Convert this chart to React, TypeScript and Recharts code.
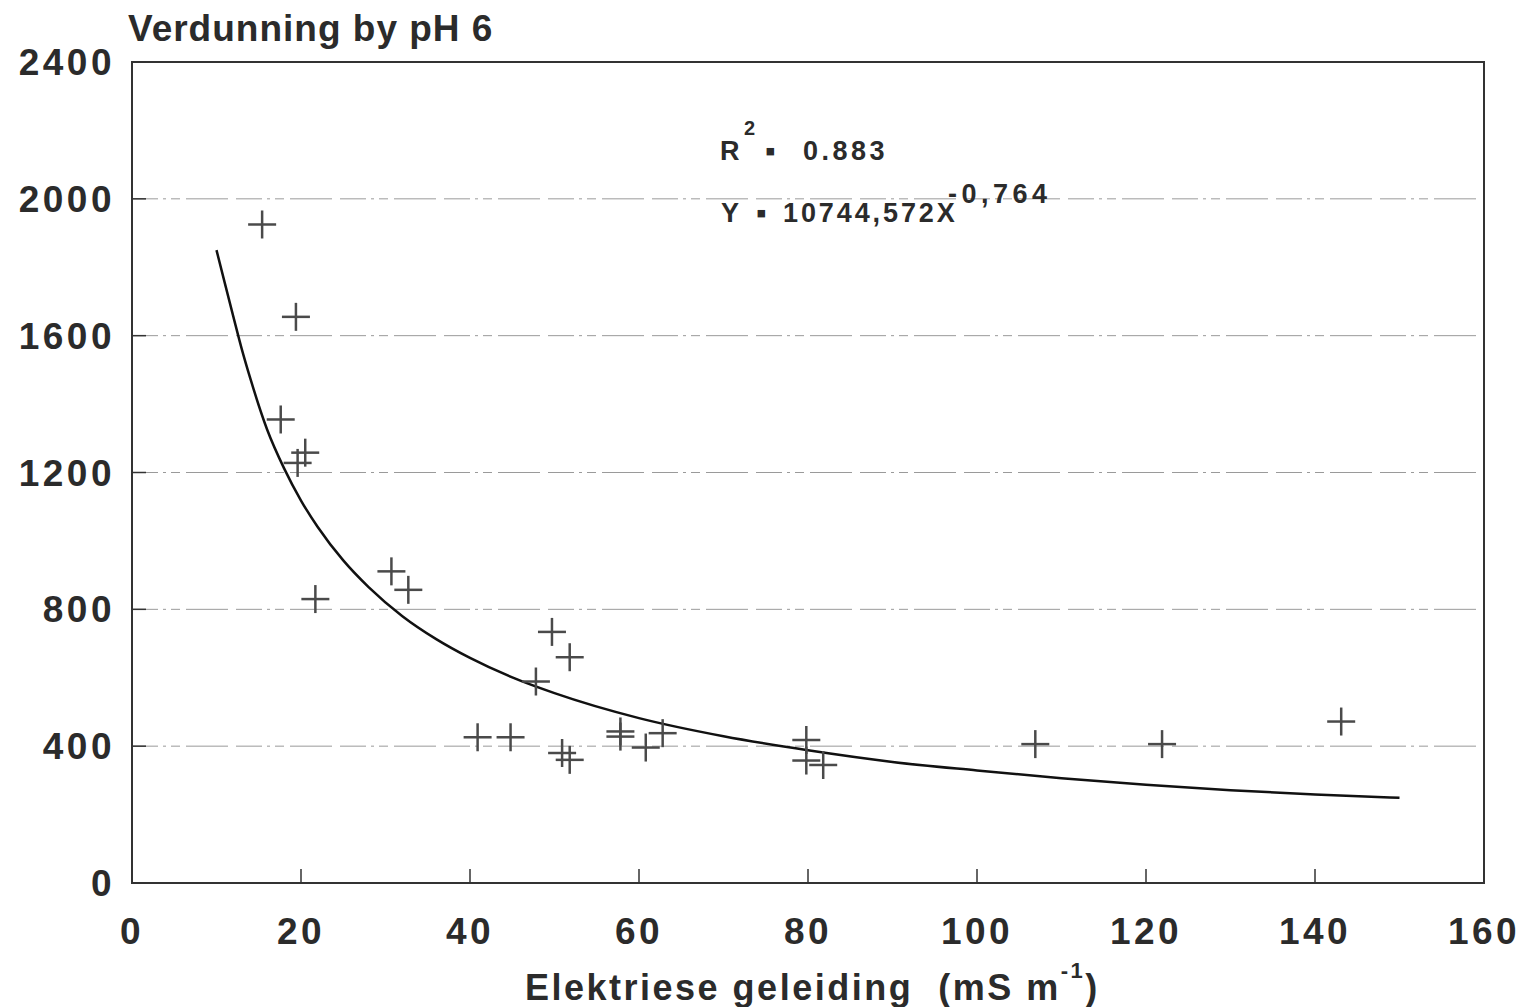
import {
  ComposedChart,
  Scatter,
  Line,
  XAxis,
  YAxis,
  CartesianGrid,
  ReferenceArea,
} from "recharts";

const sampleX = [
  15.4, 19.4, 17.6, 19.6, 20.5, 21.7, 30.7, 32.7, 49.7, 51.8, 47.8, 40.9, 44.8,
  50.9, 51.8, 57.8, 57.8, 60.8, 62.8, 79.8, 79.8, 81.8, 106.9, 121.9, 143.1,
];
const sampleY = [
  1925, 1655, 1355, 1228, 1258, 830, 911, 857, 734, 660, 589, 426, 426, 380, 360,
  443, 428, 396, 438, 418, 358, 345, 406, 406, 472,
];

// Fitted power curve, read at points along the drawn line.
const fitX = [
  10, 11, 12, 13, 14, 16, 18, 20, 22, 25, 28, 32, 36, 40, 45, 50, 60, 70, 80,
  90, 100, 110, 120, 130, 140, 150,
];
const fitY = [
  1850, 1752, 1655, 1560, 1475, 1325, 1212, 1118, 1040, 943, 865, 780, 713, 658,
  601, 555, 482, 429, 388, 354, 329, 306, 287, 271, 259, 249,
];

const xTicks = [0, 20, 40, 60, 80, 100, 120, 140, 160];
const yTicks = [0, 400, 800, 1200, 1600, 2000, 2400];

const points = sampleX.map((x, i) => ({ x, y: sampleY[i] }));
const curve = fitX.map((x, i) => ({ x, y: fitY[i] }));

const FONT = "'Liberation Sans', Arial, Helvetica, sans-serif";
const INK = "#2b2b2b";

const Cross = (props: any) => {
  const { cx, cy } = props;
  if (cx == null || cy == null) return null;
  const h = 14;
  return (
    <g stroke="#4a4a4a" strokeWidth={2.5}>
      <line x1={cx - h} y1={cy} x2={cx + h} y2={cy} />
      <line x1={cx} y1={cy - h} x2={cx} y2={cy + h} />
    </g>
  );
};

const tickStyle = {
  fontFamily: FONT,
  fontSize: 37,
  fontWeight: 700,
  fill: INK,
  letterSpacing: 3.5,
};

export default function App() {
  return (
    <div
      style={{
        position: "absolute",
        left: 0,
        top: 0,
        width: 1525,
        height: 1007,
        overflow: "hidden",
        background: "#fff",
      }}
    >
      <ComposedChart
        width={1525}
        height={1007}
        margin={{ top: 62, right: 41, bottom: 0, left: 0 }}
      >
        <CartesianGrid
          horizontal
          vertical={false}
          stroke="#9a9a9a"
          strokeWidth={1}
          strokeDasharray="26 5 3 5 9 6 42 8"
        />
        <XAxis
          type="number"
          dataKey="x"
          domain={[0, 160]}
          ticks={xTicks}
          allowDataOverflow
          height={124}
          tickSize={-14}
          tickMargin={49}
          axisLine={{ stroke: "#333", strokeWidth: 2 }}
          tickLine={{ stroke: "#333", strokeWidth: 1.5 }}
          tick={tickStyle}
        />
        <YAxis
          type="number"
          dataKey="y"
          domain={[0, 2400]}
          ticks={yTicks}
          allowDataOverflow
          width={132}
          tickSize={-14}
          tickMargin={31}
          axisLine={{ stroke: "#333", strokeWidth: 2 }}
          tickLine={{ stroke: "#333", strokeWidth: 1.5 }}
          tick={tickStyle}
        />
        <ReferenceArea
          x1={0}
          x2={160}
          y1={0}
          y2={2400}
          fill="none"
          stroke="#333"
          strokeWidth={2}
          ifOverflow="visible"
        />
        <Line
          data={curve}
          dataKey="y"
          type="monotone"
          stroke="#111"
          strokeWidth={2.5}
          dot={false}
          activeDot={false}
          isAnimationActive={false}
        />
        <Scatter
          data={points}
          dataKey="y"
          shape={Cross}
          isAnimationActive={false}
        />
      </ComposedChart>

      <svg
        width={1525}
        height={1007}
        style={{ position: "absolute", left: 0, top: 0, pointerEvents: "none" }}
        fontFamily={FONT}
        fontWeight={700}
        fill={INK}
      >
        <text x={128} y={41} fontSize={37} letterSpacing={1}>
          Verdunning by pH 6
        </text>

        <text x={720} y={160} fontSize={27}>R</text>
        <text x={744} y={135} fontSize={20}>2</text>
        <text x={765} y={161} fontSize={30}>▪</text>
        <text x={803} y={160} fontSize={27} letterSpacing={3.5}>0.883</text>

        <text x={721} y={222} fontSize={27}>Y</text>
        <text x={756} y={223} fontSize={30}>▪</text>
        <text x={783} y={222} fontSize={27} letterSpacing={2.9}>10744,572X</text>
        <text x={948} y={203} fontSize={27} letterSpacing={4.5}>-0,764</text>

        <text x={525} y={1000} fontSize={36} letterSpacing={2.5}>
          {"Elektriese geleiding\u00a0\u00a0(mS m"}
          <tspan dy={-22} fontSize={22}>-1</tspan>
          <tspan dy={22} fontSize={36}>)</tspan>
        </text>
      </svg>
    </div>
  );
}
